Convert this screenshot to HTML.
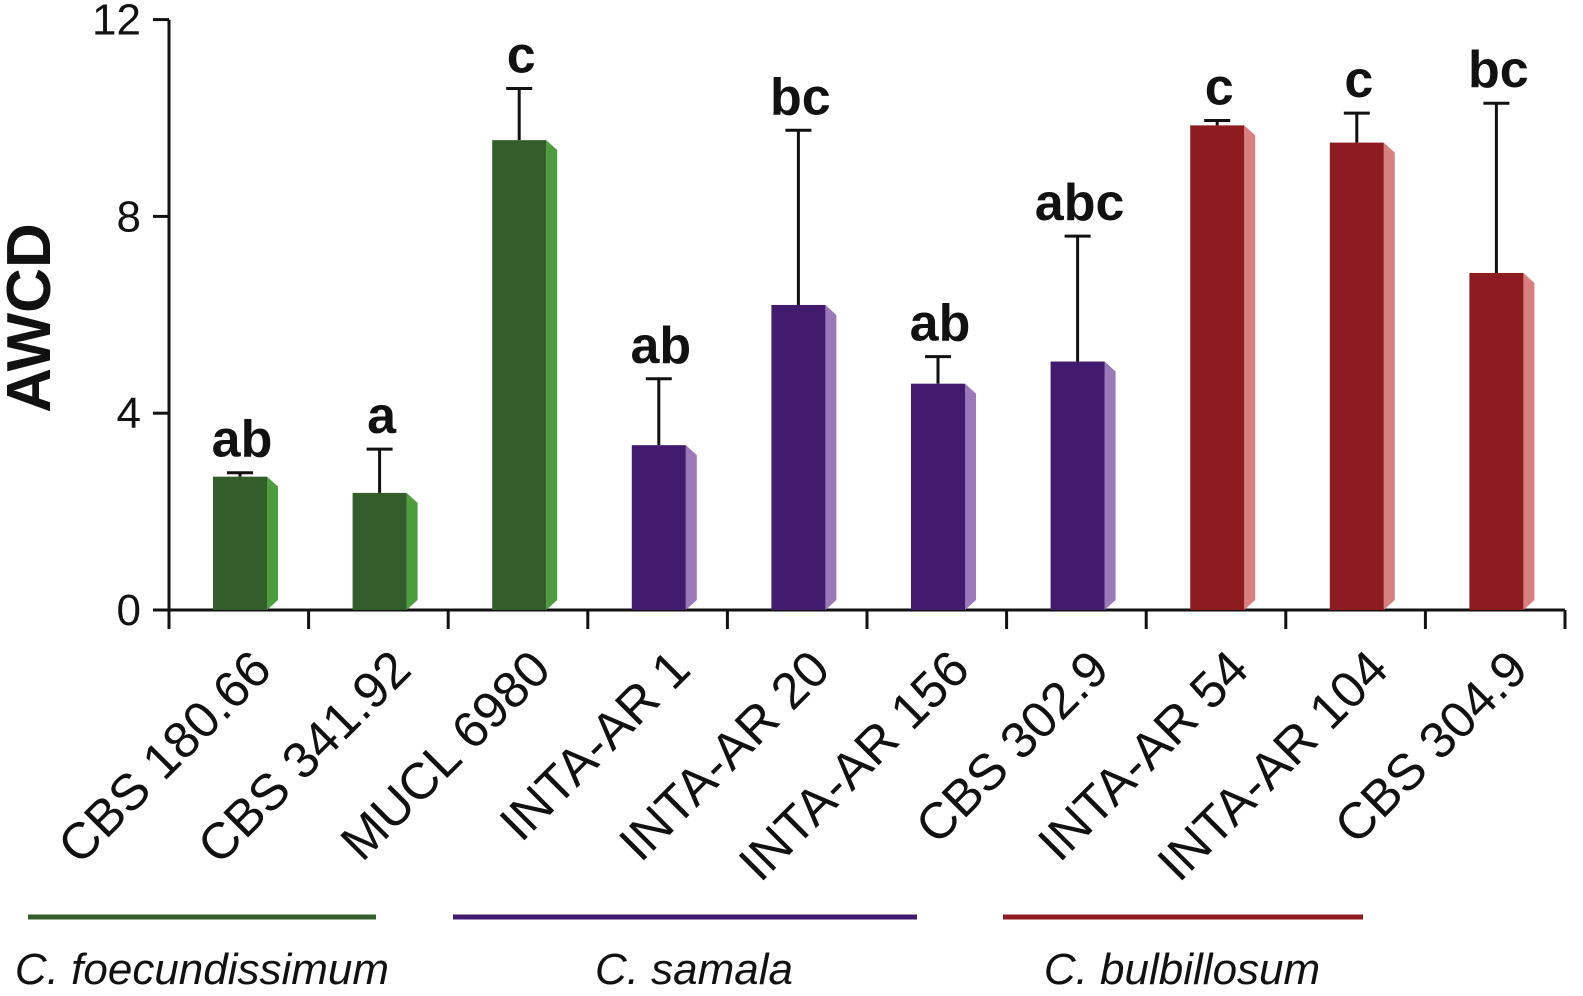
<!DOCTYPE html>
<html><head><meta charset="utf-8"><style>body{margin:0;background:#fff}svg{display:block;font-family:"Liberation Sans",Arial,sans-serif}</style></head>
<body>
<svg id="c" width="1583" height="996"></svg>
<script>
const categories=["CBS 180.66","CBS 341.92","MUCL 6980","INTA-AR 1","INTA-AR 20","INTA-AR 156","CBS 302.9","INTA-AR 54","INTA-AR 104","CBS 304.9"];
const values=[2.71,2.38,9.55,3.35,6.2,4.6,5.05,9.85,9.5,6.85];
const errTops=[2.79,3.27,10.6,4.7,9.75,5.15,7.6,9.95,10.1,10.3];
const letters=["ab","a","c","ab","bc","ab","abc","c","c","bc"];
const groups=[0,0,0,1,1,1,1,2,2,2];
const yTicks=[0,4,8,12];
const groupNames=["C. foecundissimum","C. samala","C. bulbillosum"];
const front=["#335e2b","#421a6e","#8e1b20"],side=["#4e9d3c","#9b79b8","#d88080"];
const ns="http://www.w3.org/2000/svg",svg=document.getElementById('c');
function el(t,a,txt){const e=document.createElementNS(ns,t);for(const k in a)e.setAttribute(k,a[k]);if(txt!=null)e.textContent=txt;svg.appendChild(e);return e;}
const y0=610,ppu=49.2,x0=169,step=139.6;
const y=v=>y0-v*ppu, x=i=>x0+i*step;
let e;
e=el('line',{x1:x0,y1:y(12),x2:x0,y2:y0+2,stroke:'#111','stroke-width':3});

e=el('line',{x1:x0,y1:y0,x2:x(10),y2:y0,stroke:'#111','stroke-width':3});

yTicks.forEach(t=>{
 e=el('line',{x1:x0-16,y1:y(t),x2:x0,y2:y(t),stroke:'#111','stroke-width':3});
 
 e=el('text',{x:x0-28,y:y(t)+15,'text-anchor':'end','font-size':44,fill:'#111'},t);
 
});
for(let i=0;i<=10;i++){e=el('line',{x1:x(i),y1:y0,x2:x(i),y2:y0+19,stroke:'#111','stroke-width':3});
 }
e=el('text',{transform:'translate(50,318) rotate(-90)','text-anchor':'middle','font-size':62,'font-weight':'bold',fill:'#111'},'AWCD');

categories.forEach((c,i)=>{
 const l=x(i)+44,w=54,s=11,top=y(values[i]),g=groups[i],cx=l+w/2;
 e=el('line',{x1:cx,y1:y(errTops[i]),x2:cx,y2:top,stroke:'#111','stroke-width':3});
 
 e=el('line',{x1:cx-13,y1:y(errTops[i]),x2:cx+13,y2:y(errTops[i]),stroke:'#111','stroke-width':3});
 
 e=el('polygon',{points:`${l+w},${top} ${l+w+s},${top+10} ${l+w+s},${y0-10} ${l+w},${y0}`,fill:side[g]});
 
 e=el('rect',{x:l,y:top,width:w,height:y0-top,fill:front[g]});
 
 e=el('text',{x:cx+2,y:y(errTops[i])-16,'text-anchor':'middle','font-size':52,'font-weight':'bold',fill:'#111'},letters[i]);
 
 e=el('text',{transform:`translate(${cx+34},672) rotate(-45)`,'text-anchor':'end','font-size':51,fill:'#111'},c);
 
});
const gl=[[28,376],[453,917],[1003,1363]],gt=[202,694,1182];
groupNames.forEach((n,k)=>{
 e=el('line',{x1:gl[k][0],y1:917,x2:gl[k][1],y2:917,stroke:front[k],'stroke-width':5});
 
 e=el('text',{x:gt[k],y:984,'text-anchor':'middle','font-size':44,'font-style':'italic',fill:'#111'},n);
 
});
</script>
</body></html>
